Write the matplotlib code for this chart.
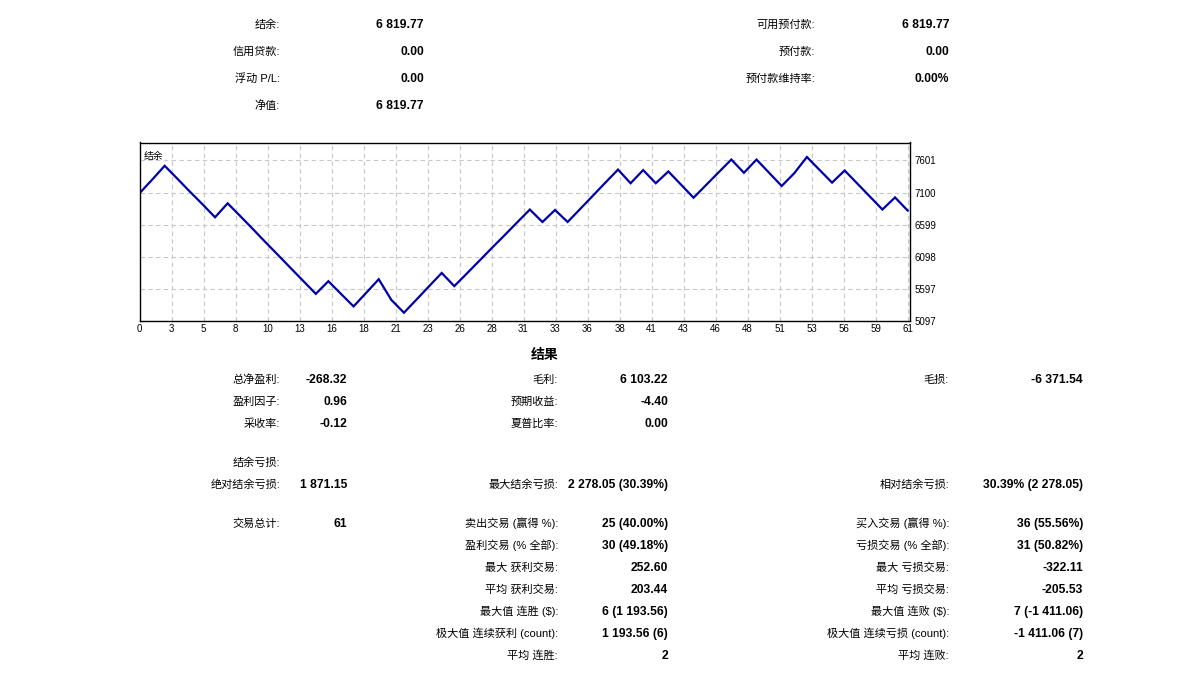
import matplotlib
matplotlib.use("Agg")
import matplotlib.pyplot as plt
import numpy as np

FONTS = ['Liberation Sans', 'Noto Sans CJK SC', 'DejaVu Sans']
plt.rcParams['font.family'] = FONTS

W, H = 1190, 677

# ---- data ----
initial_deposit = 7088.09
# profit of each closed trade, in order
trade_profits = [
    211.64, 216.89, -200.00, -202.40, -196.85, -203.20, 217.44,
    -198.35, -201.70, -205.15, -199.80, -203.40, -200.96, -201.70,
    196.94, -197.35, -195.50, 210.84, 212.69, -322.11, -199.85,
    205.14, 208.39, 205.94, -204.80,
    197.30, 199.85, 201.20, 196.40, 200.75, 198.06,
    -194.00, 187.74, -187.25, 203.34, 204.79, 205.64, 202.99,
    -212.90, 205.24, -205.05, 183.44, -204.20, -204.95,
    198.34, 198.94, 197.79, -206.70, 206.14, -205.90, -205.75,
    199.29, 252.60, -200.40, -199.05, 188.84,
    -202.50, -202.80, -203.00, 188.63, -203.97,
]
x_tick_labels = ['0', '3', '5', '8', '10', '13', '16', '18', '21', '23', '26', '28', '31',
                 '33', '36', '38', '41', '43', '46', '48', '51', '53', '56', '59', '61']
y_ticks = [5097, 5597, 6098, 6599, 7100, 7601]
y_top = 7880

account_left_labels = ['结余:', '信用贷款:', '浮动 P/L:', '净值:']
account_left_values = ['6 819.77', '0.00', '0.00', '6 819.77']
account_right_labels = ['可用预付款:', '预付款:', '预付款维持率:']
account_right_values = ['6 819.77', '0.00', '0.00%']

results_title = '结果'
# (row, label, value)
results_col1 = [
    (0, '总净盈利:', '-268.32'),
    (1, '盈利因子:', '0.96'),
    (2, '采收率:', '-0.12'),
    (3, '结余亏损:', ''),
    (4, '绝对结余亏损:', '1 871.15'),
    (5, '交易总计:', '61'),
]
results_col2 = [
    (0, '毛利:', '6 103.22'),
    (1, '预期收益:', '-4.40'),
    (2, '夏普比率:', '0.00'),
    (4, '最大结余亏损:', '2 278.05 (30.39%)'),
    (5, '卖出交易 (赢得 %):', '25 (40.00%)'),
    (6, '盈利交易 (% 全部):', '30 (49.18%)'),
    (7, '最大 获利交易:', '252.60'),
    (8, '平均 获利交易:', '203.44'),
    (9, '最大值 连胜 ($):', '6 (1 193.56)'),
    (10, '极大值 连续获利 (count):', '1 193.56 (6)'),
    (11, '平均 连胜:', '2'),
]
results_col3 = [
    (0, '毛损:', '-6 371.54'),
    (4, '相对结余亏损:', '30.39% (2 278.05)'),
    (5, '买入交易 (赢得 %):', '36 (55.56%)'),
    (6, '亏损交易 (% 全部):', '31 (50.82%)'),
    (7, '最大 亏损交易:', '-322.11'),
    (8, '平均 亏损交易:', '-205.53'),
    (9, '最大值 连败 ($):', '7 (-1 411.06)'),
    (10, '极大值 连续亏损 (count):', '-1 411.06 (7)'),
    (11, '平均 连败:', '2'),
]

# ---- layout (pixels, text centre lines) ----
account_rows_y = [24, 51, 78, 105]
result_rows_y = [379, 401, 423, 462, 484, 523, 545, 567, 589, 611, 633, 655]

fig = plt.figure(figsize=(W / 100, H / 100), dpi=100)
fig.patch.set_facecolor('white')


def put(x, y, s, bold=False, ha='right', size=None):
    # baseline sits ~4px below the visual centre of the row
    if size is None:
        size = 8.7 if bold else 8
    fig.text(x / W, 1 - (y + 4) / H, s, ha=ha, va='baseline', fontsize=size,
             fontweight='bold' if bold else 'normal', color='black', family=FONTS)


for y, lab, val in zip(account_rows_y, account_left_labels, account_left_values):
    put(280, y, lab)
    put(424, y, val, bold=True)
for y, lab, val in zip(account_rows_y, account_right_labels, account_right_values):
    put(815, y, lab)
    put(949, y, val, bold=True)

# ---- balance chart ----
balance = np.concatenate([[initial_deposit], initial_deposit + np.cumsum(trade_profits)])
trades = np.arange(len(balance))

l, r, t, b = 139.5, 909.5, 142.5, 321
ax = fig.add_axes([l / W, 1 - b / H, (r - l) / W, (b - t) / H])
ax.plot(trades, balance, color='#0000A8', lw=1.6, solid_joinstyle='miter')
ax.set_xlim(0, len(balance) - 1 + 0.15)
ax.set_ylim(y_ticks[0], y_top)
xt = np.linspace(0, len(balance) - 1, len(x_tick_labels))
ax.set_xticks(xt)
ax.set_xticklabels(x_tick_labels, fontsize=7)
ax.set_yticks(y_ticks)
ax.set_yticklabels([str(v) for v in y_ticks], fontsize=7)
ax.yaxis.tick_right()
ax.tick_params(axis='x', length=0, pad=2.5, colors='black')
ax.tick_params(axis='y', length=0, pad=3.5, colors='black')
ax.grid(True, color='#C8C8C8', linestyle=(0, (4, 3)), lw=0.8)
for s in ax.spines.values():
    s.set_color('black')
    s.set_linewidth(1.0)
ax.text(0.006, 0.95, '结余', transform=ax.transAxes, fontsize=7, ha='left', va='top',
        family=FONTS)

# ---- results ----
put(545, 355, results_title, bold=True, ha='center', size=10)
for row, lab, val in results_col1:
    put(280, result_rows_y[row], lab)
    if val:
        put(347, result_rows_y[row], val, bold=True)
for row, lab, val in results_col2:
    put(558, result_rows_y[row], lab)
    put(668, result_rows_y[row], val, bold=True)
for row, lab, val in results_col3:
    put(949, result_rows_y[row], lab)
    put(1083, result_rows_y[row], val, bold=True)

fig.savefig('out.png', dpi=100, facecolor='white')
